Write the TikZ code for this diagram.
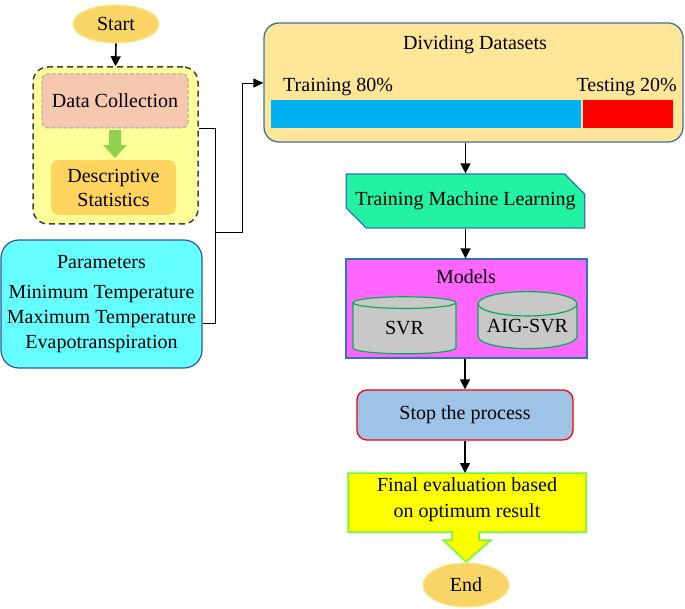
\documentclass[tikz,border=0pt]{standalone}
\usepackage{fontspec}
\setmainfont{Liberation Serif}
\usetikzlibrary{shapes.geometric,shapes.misc,arrows.meta}
\definecolor{startfill}{HTML}{F9D466}
\definecolor{startdraw}{HTML}{FFE680}
\definecolor{groupfill}{HTML}{FFFF99}
\definecolor{groupdraw}{HTML}{404040}
\definecolor{dcfill}{HTML}{F6C8B0}
\definecolor{dcdraw}{HTML}{A6A6A6}
\definecolor{descfill}{HTML}{FFD45E}
\definecolor{greenarr}{HTML}{92D050}
\definecolor{paramfill}{HTML}{66FFFF}
\definecolor{paramdraw}{HTML}{2F5597}
\definecolor{divfill}{HTML}{FFE699}
\definecolor{divdraw}{HTML}{41719C}
\definecolor{trainbar}{HTML}{00B0F0}
\definecolor{testbar}{HTML}{FF0000}
\definecolor{mlfill}{HTML}{22F2A2}
\definecolor{bluedraw}{HTML}{2E75B6}
\definecolor{modfill}{HTML}{FF66FF}
\definecolor{cylfill}{HTML}{C8C8C8}
\definecolor{cyldraw}{HTML}{00B050}
\definecolor{stopfill}{HTML}{9DC3E6}
\definecolor{finalfill}{HTML}{FFFF00}
\definecolor{finaldraw}{HTML}{66FF33}
\begin{document}
\begin{tikzpicture}[x=1pt,y=-1pt,
  font=\fontsize{20}{25}\selectfont,
  arr/.style={-{Triangle[length=10pt,width=10pt]}, line width=1.6pt},
  thinline/.style={line width=0.8pt},
  term/.style={ellipse, fill=startfill, draw=startdraw, line width=1pt, inner sep=0pt},
  txt/.style={inner sep=0pt, align=center},
  cyl/.style={cylinder, shape border rotate=90, aspect=0.3, fill=cylfill, draw=cyldraw, line width=1.2pt, inner sep=0pt}
]
\useasboundingbox (0,0) rectangle (685,609);

% Start
\node[term, minimum width=86pt, minimum height=38pt] (start) at (116,24) {Start};

% group box
\node[draw=groupdraw, fill=groupfill, line width=1.5pt, dash pattern=on 6pt off 4pt,
      rounded corners=15pt, minimum width=165pt, minimum height=157pt] (group) at (115.5,145.5) {};
\node[fill=dcfill, draw=dcdraw, line width=1pt, dash pattern=on 4pt off 2pt, rounded corners=6pt,
      minimum width=146pt, minimum height=54pt, txt] (dc) at (115,101) {Data Collection};
\node[fill=descfill, rounded corners=8pt, minimum width=125pt, minimum height=55pt, txt,
      font=\fontsize{20}{24}\selectfont] (desc) at (113.5,187.5) {Descriptive\\Statistics};
\fill[greenarr] (109,130) -- (121,130) -- (121,145) -- (127,145) -- (115,158) -- (103,145) -- (109,145) -- cycle;

% Parameters
\node[fill=paramfill, draw=paramdraw, line width=1.2pt, rounded corners=18pt,
      minimum width=201pt, minimum height=128pt, txt] (params) at (101.5,304)
      {Parameters\\[5pt]Minimum Temperature\\Maximum Temperature\\Evapotranspiration};

% Dividing datasets
\node[fill=divfill, draw=divdraw, line width=1.3pt, rounded corners=15pt,
      minimum width=419pt, minimum height=119pt] (divide) at (473.5,82.5) {};
\node[txt] (divtitle) at (475,45) {Dividing Datasets};
\node[txt, anchor=west] (traintxt) at (283,87) {Training 80\%};
\node[txt, anchor=east] (testtxt) at (677,87) {Testing 20\%};
\node[fill=trainbar, minimum width=310pt, minimum height=28pt, inner sep=0pt] (trainbar) at (426,114) {};
\node[fill=testbar, minimum width=90pt, minimum height=28pt, inner sep=0pt] (testbar) at (628,114) {};

% Training ML
\node[chamfered rectangle, chamfered rectangle corners={north east,south west},
      chamfered rectangle xsep=11pt, chamfered rectangle ysep=11pt,
      fill=mlfill, draw=bluedraw, line width=1.2pt, minimum width=229pt, minimum height=54pt, inner sep=0pt]
      (ml) at (465.5,201) {Training Machine Learning};

% Models
\node[fill=modfill, draw=bluedraw, line width=1.3pt, minimum width=241pt, minimum height=99pt] (models) at (466.5,308.5) {};
\node[txt] (modtitle) at (466,277) {Models};
\node[cyl, minimum width=103pt, minimum height=57pt] (svr) at (404.5,328.5) {SVR};
\node[cyl, minimum width=99pt, minimum height=57pt] (aig) at (527.5,326.5) {AIG-SVR};

% Stop
\node[fill=stopfill, draw=red, line width=1.3pt, rounded corners=10pt,
      minimum width=216pt, minimum height=50pt, txt] (stop) at (465,415) {Stop the process};

% Final evaluation
\filldraw[fill=finalfill, draw=finaldraw, line width=1.5pt]
  (348,473) -- (586,473) -- (586,532) -- (479,532) -- (479,540) -- (491,540) -- (466,562)
  -- (443,540) -- (452,540) -- (452,532) -- (348,532) -- cycle;
\node[txt, font=\fontsize{20}{26}\selectfont] (final) at (467,500) {Final evaluation based\\on optimum result};

% End
\node[term, minimum width=86pt, minimum height=44pt] (end) at (466,585) {End};

% connectors
\draw[arr] (start.south) -- (group.north);
\draw[arr] (divide.south -| ml.north) -- (ml.north);
\draw[arr] (ml.south) -- (ml.south |- models.north);
\draw[arr] (models.south -| stop.north) -- (stop.north);
\draw[arr] (stop.south) -- (stop.south |- 0,473);

\coordinate (b1) at (215,128);
\coordinate (b2) at (215,323);
\coordinate (bm) at (215,232);
\coordinate (bu) at (242,83);
\draw[thinline] (group.east |- b1) -- (b1) -- (b2) -- (params.east |- b2);
\draw[thinline, -{Triangle[length=10pt,width=9pt]}] (bm) -- (bm -| bu) -- (bu) -- (divide.west |- bu);
\end{tikzpicture}
\end{document}
